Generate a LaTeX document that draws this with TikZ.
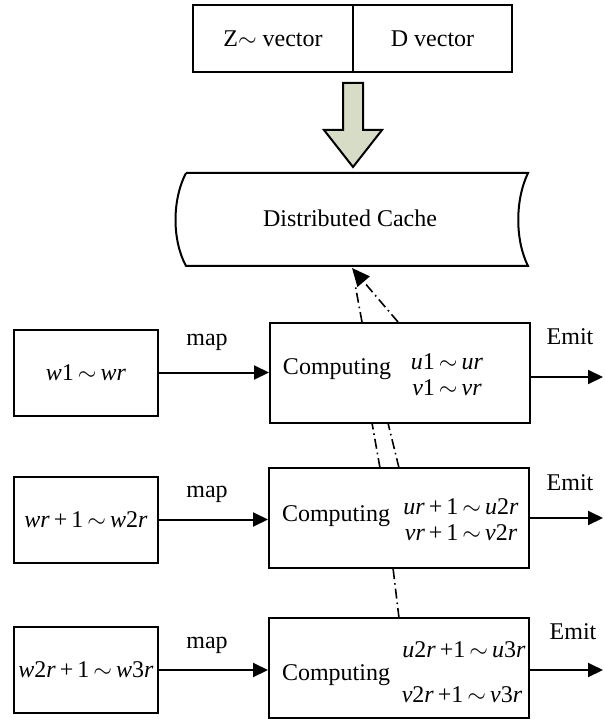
\documentclass[tikz,border=0pt]{standalone}
\usepackage{fontspec}
\setmainfont{Liberation Serif}
\usetikzlibrary{arrows.meta,calc}
\definecolor{blockfill}{RGB}{214,220,198}
% italic letter used in the index ranges
\newcommand\tl[1]{\textit{#1}}
\newcommand\rg{\,$\sim$\,}
\begin{document}
\begin{tikzpicture}[x=0.5pt,y=-0.5pt,
  font=\fontsize{12}{14}\selectfont,
  box/.style={draw,line width=1pt,inner sep=0pt,fill=white},
  lbox/.style={box,minimum width=72pt,minimum height=43pt},
  cbox/.style={box,minimum width=130pt,minimum height=50pt},
  tip/.style={-{Triangle[length=7.5pt,width=7pt]}},
  link/.style={line width=1pt},
  ddot/.style={line width=0.8pt,dash pattern=on 5pt off 2pt on 0.8pt off 2pt},
  lbl/.style={inner sep=0pt}]
\useasboundingbox (0,0) rectangle (604,721);

% vector records
\node[box,minimum width=80pt,minimum height=33.5pt] (zvec) at (273,38.5) {Z$\sim$ vector};
\node[box,minimum width=79.5pt,minimum height=33.5pt] (dvec) at (432.5,38.5) {D vector};

% hollow block arrow down to the cache
\draw[line width=1pt,fill=blockfill] (343,83) -- (363,83) -- (363,130) -- (382,130)
  -- (353,167) -- (324,130) -- (343,130) -- cycle;

% distributed cache (stored-data outline)
\node[lbl] (cache) at (350,218) {Distributed Cache};
\draw[line width=1pt] (186,173) -- (528,173) .. controls (515,200) and (515,240) .. (528,266)
  -- (186,266) .. controls (172,240) and (172,200) .. (186,173);
\coordinate (ctip) at (352,268);

% dash-dot links from the workers to the cache
\coordinate (k1) at (355,284);
\coordinate (k2) at (372,423);
\coordinate (k3) at (388,423);
\coordinate (k4) at (393,568);
\draw[ddot] (380,468) -- (k2);
\draw[ddot] (399,468) -- (k3);
\draw[ddot] (399,618) -- (k4);

% workers
\node[lbox] (l1) at (86,372.5) {\tl{w}1\rg\tl{w}\textit{r}};
\node[lbox] (l2) at (86,519.5) {\tl{w}\textit{r}\,+\,1\rg\tl{w}2\textit{r}};
\node[lbox] (l3) at (86,670) {\tl{w}2\textit{r}\,+\,1\rg\tl{w}3\textit{r}};

\node[cbox] (c1) at (400,373) {};
\node[cbox] (c2) at (399,518) {};
\node[cbox] (c3) at (399,668) {};

\draw[ddot,-{Triangle[length=9pt,width=8pt]}] ([xshift=-1pt]c1.north) -- (ctip);
\draw[ddot] ([xshift=-19pt]c1.north) -- (k1);

% box contents
\node[lbl] (p1) at (337,369) {Computing};
\node[lbl] (p2) at (336,516) {Computing};
\node[lbl] (p3) at (336,675) {Computing};
\node[lbl] (u1) at (447,362) {\tl{u}1\rg\tl{u}\textit{r}};
\node[lbl] (v1) at (447,388) {\tl{v}1\rg\tl{v}\textit{r}};
\node[lbl] (u2) at (461,507) {\tl{u}\textit{r}\,+\,1\rg\tl{u}2\textit{r}};
\node[lbl] (v2) at (461,533) {\tl{v}\textit{r}\,+\,1\rg\tl{v}2\textit{r}};
\node[lbl] (u3) at (464,650) {\tl{u}2\textit{r}\,+1\rg\tl{u}3\textit{r}};
\node[lbl] (v3) at (462,695) {\tl{v}2\textit{r}\,+1\rg\tl{v}3\textit{r}};

% map arrows
\draw[link,tip] (l1.east) -- (l1.east -| c1.west);
\draw[link,tip] (l2.east) -- (l2.east -| c2.west);
\draw[link,tip] (l3.east) -- (l3.east -| c3.west);
\node[lbl] (m1) at (207,342) {map};
\node[lbl] (m2) at (207,494) {map};
\node[lbl] (m3) at (207,645) {map};

% emit arrows
\coordinate (e1) at (603,377);
\coordinate (e2) at (603,518);
\coordinate (e3) at (603,670);
\draw[link,tip] (c1.east |- e1) -- (e1);
\draw[link,tip] (c2.east |- e2) -- (e2);
\draw[link,tip] (c3.east |- e3) -- (e3);
\node[lbl] (t1) at (570,337) {Emit};
\node[lbl] (t2) at (570,483) {Emit};
\node[lbl] (t3) at (573,632) {Emit};
\end{tikzpicture}
\end{document}
